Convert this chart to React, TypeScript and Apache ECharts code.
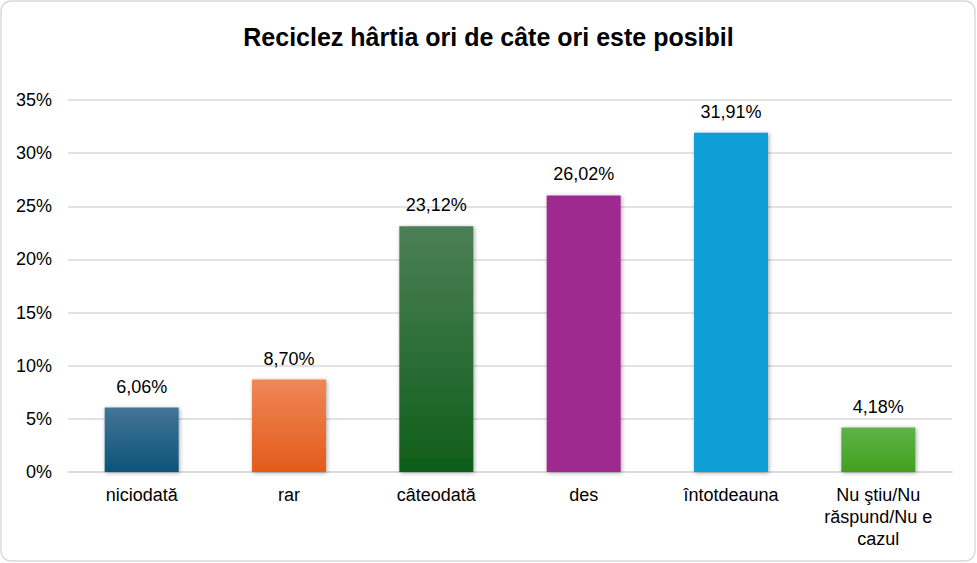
import React, { useEffect, useRef } from 'react';
import * as echarts from 'echarts';

const categories = ['niciodată', 'rar', 'câteodată', 'des', 'întotdeauna', 'Nu ştiu/Nu\nrăspund/Nu e\ncazul'];
const values = [6.06, 8.7, 23.12, 26.02, 31.91, 4.18];
const barColors: [string, string][] = [
  ['#437596', '#0c5379'],
  ['#ef8758', '#e35b1a'],
  ['#4c7f56', '#0e5e19'],
  ['#9e2b90', '#9e2b90'],
  ['#119fd6', '#119fd6'],
  ['#5fb249', '#42a01e'],
];

const App: React.FC = () => {
  const chartRef = useRef<HTMLDivElement>(null);

  useEffect(() => {
    if (!chartRef.current) return;
    const chart = echarts.init(chartRef.current, null, { renderer: 'svg' });
    const font = 'Liberation Sans, Arial, sans-serif';
    chart.setOption({
      animation: false,
      title: {
        text: 'Reciclez hârtia ori de câte ori este posibil',
        left: 'center',
        top: 19,
        textStyle: { fontFamily: font, fontSize: 25, fontWeight: 'bold', color: '#000' },
      },
      graphic: [
        {
          type: 'rect',
          shape: { x: 1, y: 1, width: 974, height: 560, r: 10 },
          style: { fill: 'none', stroke: '#d9d9d9', lineWidth: 1.5 },
          silent: true,
        },
      ],
      grid: { left: 68, right: 25, top: 100, bottom: 91 },
      xAxis: {
        type: 'category',
        data: categories,
        axisTick: { show: false },
        axisLine: { lineStyle: { color: '#d9d9d9', width: 1.5 } },
        axisLabel: { color: '#000', fontFamily: font, fontSize: 18, margin: 12, lineHeight: 22, interval: 0 },
      },
      yAxis: {
        type: 'value',
        min: 0,
        max: 35,
        interval: 5,
        axisLabel: { color: '#000', fontFamily: font, fontSize: 18, formatter: (v: number) => v + '%', margin: 16 },
        splitLine: { lineStyle: { color: '#d9d9d9', width: 1.5 } },
      },
      series: [
        {
          type: 'bar',
          barWidth: 74,
          data: values.map((v, i) => ({
            value: v,
            itemStyle: {
              color: new echarts.graphic.LinearGradient(0, 0, 0, 1, [
                { offset: 0, color: barColors[i][0] },
                { offset: 1, color: barColors[i][1] },
              ]),
              shadowColor: 'rgba(0,0,0,0.35)',
              shadowBlur: 4,
              shadowOffsetX: 1,
              shadowOffsetY: 1,
            },
          })),
          label: {
            show: true,
            position: 'top',
            distance: 12,
            color: '#000',
            fontFamily: font,
            fontSize: 18,
            formatter: (p: any) => p.value.toFixed(2).replace('.', ',') + '%',
          },
        },
      ],
    });
    return () => chart.dispose();
  }, []);

  return <div ref={chartRef} style={{ position: 'absolute', left: 0, top: 0, width: 977, height: 563 }} />;
};

export default App;
